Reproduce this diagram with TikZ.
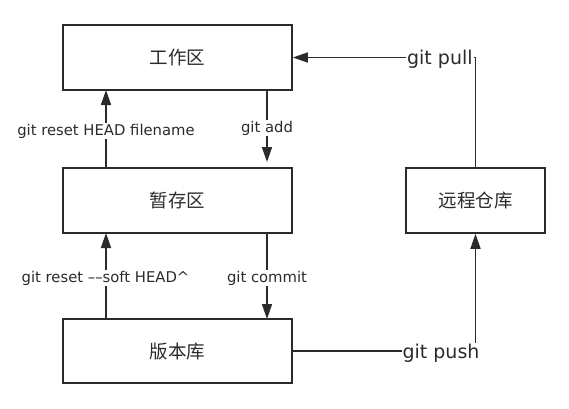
\documentclass[tikz,border=0pt]{standalone}
\usepackage{fontspec}
\setmainfont{DejaVu Sans}
\newfontfamily\cjk{Noto Sans CJK SC}
\usetikzlibrary{arrows.meta}
\definecolor{ink}{HTML}{2B2B2B}
\tikzset{
  box/.style={draw=ink, line width=1.6pt, fill=white, inner sep=0pt, font=\cjk\fontsize{18.5}{20}\selectfont, text=ink},
  conn/.style={draw=ink, line width=1.6pt, -{Triangle[length=15pt,width=10pt]}},
  lbl/.style={fill=white, inner sep=1pt, text=ink, font=\fontsize{14.8}{16}\selectfont},
  biglbl/.style={fill=white, inner sep=1pt, text=ink, font=\fontsize{19}{21}\selectfont},
}
\begin{document}
\begin{tikzpicture}[x=1pt,y=-1pt]
\useasboundingbox (0,0) rectangle (569,408);
\node[box, minimum width=229pt, minimum height=65pt] (work) at (177.5,57.5) {工作区};
\node[box, minimum width=229pt, minimum height=65pt] (stage) at (177.5,200.5) {暂存区};
\node[box, minimum width=229pt, minimum height=64pt] (repo) at (177.5,351) {版本库};
\node[box, minimum width=139pt, minimum height=65pt] (remote) at (475.5,200.5) {远程仓库};
\coordinate (wa) at (106,90);
\coordinate (wb) at (267,90);
\coordinate (sa) at (106,168);
\coordinate (sb) at (267,162);
\coordinate (sc) at (106,233);
\coordinate (sd) at (267,233);
\coordinate (ra) at (106,319);
\coordinate (rb) at (267,319);
\draw[conn] (sa) -- (wa);
\draw[conn] (wb) -- (sb);
\draw[conn] (ra) -- (sc);
\draw[conn] (sd) -- (rb);
\draw[conn] (remote.north) |- (work.east);
\draw[conn] (repo.east) -| (remote.south);
\node[lbl] (l1) at (106,131) {git reset HEAD filename};
\node[lbl] (l2) at (267,128) {git add};
\node[lbl] (l3) at (105.5,278) {git reset ––soft HEAD\^{}};
\node[lbl] (l4) at (267,278) {git commit};
\node[biglbl, anchor=east] (l5) at (473.8,59) {git pull};
\node[biglbl] (l6) at (441,353) {git push};
\end{tikzpicture}
\end{document}
